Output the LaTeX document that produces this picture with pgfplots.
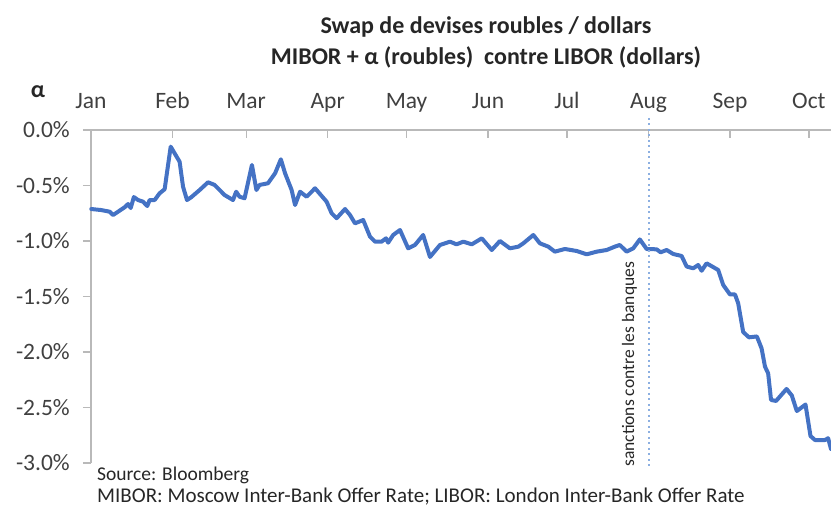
\documentclass[border=0pt]{standalone}
\usepackage{pgfplots}
\pgfplotsset{compat=1.18}
\usepackage{fontspec}
\setmainfont{Carlito}
\definecolor{linecol}{RGB}{68,114,196}
\definecolor{dashcol}{RGB}{140,175,225}
\definecolor{axcol}{RGB}{185,185,185}
\definecolor{labcol}{RGB}{64,64,64}
\begin{document}
\begin{tikzpicture}[x=1pt,y=1pt]
\path[use as bounding box] (0,0) rectangle (831,508);
\begin{axis}[
  at={(91pt,45pt)}, anchor=south west,
  scale only axis, width=740pt, height=333pt,
  xmin=0, xmax=281.4, ymin=-3, ymax=0,
  axis x line*=top, axis y line*=left,
  axis line style={-, axcol, line width=1.3pt},
  tick style={axcol, line width=1.3pt},
  tick align=outside, major tick length=8pt,
  x tick style={yshift=-8pt},
  xtick={0,31,59,90,120,151,181,212,243,273},
  xticklabels={Jan,Feb,Mar,Apr,May,Jun,Jul,Aug,Sep,Oct},
  ytick={-3,-2.5,-2,-1.5,-1,-0.5,0},
  yticklabels={-3.0\%,-2.5\%,-2.0\%,-1.5\%,-1.0\%,-0.5\%,0.0\%},
  tick label style={font=\fontsize{23.5}{26}\selectfont, text=labcol, inner sep=0pt},
  xticklabel style={anchor=base, yshift=13pt},
  yticklabel shift={13pt},
  clip=false,
]
\addplot[linecol, line width=4pt, line join=round, line cap=round] coordinates {
(0.1,-0.712) (3.8,-0.721) (7.1,-0.736) (8.4,-0.766) (10.3,-0.736) (12.8,-0.696)
(14.1,-0.667) (15.1,-0.703) (16.3,-0.604) (17.9,-0.631) (19.8,-0.646) (21.4,-0.685)
(22.3,-0.631) (24.2,-0.631) (26.1,-0.570) (28.0,-0.534) (30.3,-0.150) (31.8,-0.210)
(33.7,-0.286) (35.0,-0.511) (36.5,-0.631) (38.1,-0.606) (41.3,-0.541) (44.5,-0.471)
(47.0,-0.495) (50.8,-0.586) (54.0,-0.631) (55.2,-0.556) (56.5,-0.601) (58.4,-0.615)
(61.2,-0.315) (62.9,-0.541) (64.1,-0.495) (67.3,-0.480) (70.0,-0.390) (72.2,-0.264)
(73.8,-0.390) (76.3,-0.541) (77.6,-0.676) (79.5,-0.556) (82.0,-0.601) (85.2,-0.525)
(89.6,-0.646) (91.5,-0.750) (93.4,-0.795) (96.6,-0.712) (98.5,-0.766) (100.4,-0.841)
(103.5,-0.811) (106.1,-0.961) (108.0,-1.006) (110.5,-1.006) (112.2,-0.976) (113.0,-1.015)
(114.9,-0.946) (117.5,-0.901) (120.6,-1.066) (123.2,-1.036) (126.3,-0.946) (128.9,-1.144)
(132.7,-1.036) (136.5,-1.006) (139.0,-1.030) (141.6,-1.006) (144.8,-1.030) (148.6,-0.976)
(152.4,-1.081) (155.5,-1.000) (159.3,-1.066) (162.5,-1.051) (164.4,-1.021) (168.2,-0.946)
(170.7,-1.021) (173.9,-1.051) (176.4,-1.096) (180.2,-1.072) (184.7,-1.090) (188.5,-1.120)
(192.3,-1.096) (196.1,-1.081) (199.2,-1.051) (201.1,-1.036) (203.7,-1.096) (206.2,-1.066)
(208.7,-0.986) (211.3,-1.072) (215.1,-1.075) (216.6,-1.102) (218.9,-1.081) (221.4,-1.117)
(224.6,-1.135) (226.5,-1.230) (229.0,-1.246) (230.9,-1.216) (232.2,-1.268) (234.1,-1.201)
(238.5,-1.261) (240.4,-1.396) (243.0,-1.482) (244.9,-1.482) (246.1,-1.561) (248.0,-1.820)
(250.2,-1.868) (253.2,-1.860) (255.0,-1.967) (256.3,-2.132) (257.5,-2.192) (258.6,-2.432)
(260.5,-2.441) (264.5,-2.333) (266.5,-2.392) (268.4,-2.532) (271.7,-2.473) (273.6,-2.757)
(275.3,-2.793) (279.1,-2.793) (280.3,-2.777) (281.4,-2.874)
};
\draw[dashcol, line width=1.8pt, dash pattern=on 2pt off 3.5pt] (axis cs:212.2,0.11) -- (axis cs:212.2,-3.05);
\node[rotate=90, anchor=base west, inner sep=0pt, font=\fontsize{17.5}{20}\selectfont, text=black!85]
  at (axis cs:206.5,-3.036) {sanctions contre les banques};
\end{axis}
\node[font=\bfseries\fontsize{24}{28}\selectfont, text=black!85] at (486,481) {Swap de devises roubles / dollars};
\node[font=\bfseries\fontsize{24}{28}\selectfont, text=black!85] at (486,451) {MIBOR + α (roubles)\ \ contre LIBOR (dollars)};
\node[font=\bfseries\fontsize{24}{28}\selectfont, text=black!85] at (38,416) {α};
\node[anchor=base west, inner sep=0pt, font=\fontsize{19.5}{22}\selectfont, text=black!85] at (97,27) {Source: Bloomberg};
\node[anchor=base west, inner sep=0pt, font=\fontsize{21}{22}\selectfont, text=black!85] at (97,5) {MIBOR: Moscow Inter-Bank Offer Rate; LIBOR: London Inter-Bank Offer Rate};
\end{tikzpicture}
\end{document}
